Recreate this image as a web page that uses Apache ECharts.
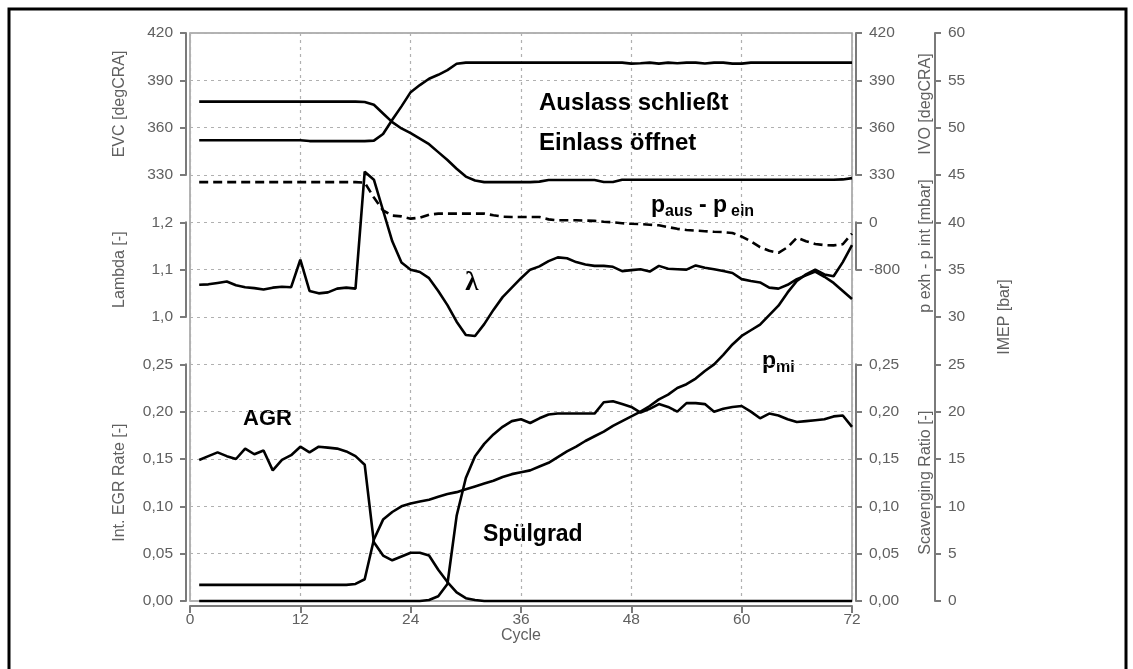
<!DOCTYPE html>
<html><head><meta charset="utf-8">
<script src="https://cdn.jsdelivr.net/npm/echarts@6/dist/echarts.min.js"></script>
<style>html,body{margin:0;padding:0;background:#fff}#c{width:1133px;height:669px}</style>
</head><body><div id="c"></div>
<script>
// ---------------- data ----------------
const cycles = [1,2,3,4,5,6,7,8,9,10,11,12,13,14,15,16,17,18,19,20,21,22,23,24,25,26,27,28,29,30,31,32,33,34,35,36,
  37,38,39,40,41,42,43,44,45,46,47,48,49,50,51,52,53,54,55,56,57,58,59,60,61,62,63,64,65,66,67,68,69,70,71,72];
// EVC [degCRA] (Auslass schließt)
const evc = [376.5,376.5,376.5,376.5,376.5,376.5,376.5,376.5,376.5,376.5,376.5,376.5,376.5,376.5,376.5,376.5,376.5,376.5,376.3,374.5,
  369,363.5,359.5,356.5,353,349.5,344.5,339.5,334,329,326.5,325.5,325.5,325.5,325.5,325.5,325.5,325.8,326.8,326.8,
  326.8,326.8,326.8,326.8,325.6,325.6,327,327,327,327,327,327,327,327,327,327,327,327,327,327,
  327,327,327,327,327,327,327,327,327,327,327.2,328];
// IVO [degCRA] (Einlass öffnet)
const ivo = [352,352,352,352,352,352,352,352,352,352,352,352,351.5,351.5,351.5,351.5,351.5,351.5,351.5,351.8,
  356,365,373.5,382.5,387,391,393.5,396.5,400.5,401.2,401.2,401.2,401.2,401.2,401.2,401.2,401.2,401.2,401.2,401.2,
  401.2,401.2,401.2,401.2,401.2,401.2,401.2,400.6,400.8,401.2,400.6,401.2,400.8,401.2,401.2,400.7,401.2,401.2,400.6,400.6,
  401.2,401.2,401.2,401.2,401.2,401.2,401.2,401.2,401.2,401.2,401.2,401.2];
// Lambda [-]
const lambda = [1.068,1.069,1.072,1.075,1.067,1.063,1.061,1.058,1.062,1.064,1.063,1.121,1.055,1.050,1.052,1.060,1.062,1.060,1.307,1.290,
  1.225,1.160,1.115,1.100,1.095,1.082,1.055,1.025,0.990,0.962,0.960,0.985,1.015,1.042,1.062,1.082,1.100,1.107,1.118,1.126,
  1.124,1.116,1.111,1.108,1.108,1.106,1.097,1.099,1.101,1.096,1.108,1.102,1.101,1.100,1.109,1.104,1.101,1.097,1.093,1.080,
  1.076,1.073,1.062,1.060,1.068,1.080,1.088,1.096,1.085,1.072,1.055,1.038];
// p exh - p int [mbar]
const dp = [680,680,680,680,680,680,680,680,680,680,680,680,680,680,680,680,680,680,672,420,
  200,115,100,62,80,130,147,147,147,147,147,147,120,95,90,90,90,90,50,34,
  34,34,30,25,10,0,-15,-25,-30,-40,-50,-80,-110,-130,-140,-150,-160,-165,-180,-240,
  -320,-420,-480,-515,-420,-260,-320,-365,-385,-390,-370,-190];
// Int. EGR Rate [-] (AGR)
const egr = [0.149,0.153,0.157,0.153,0.150,0.161,0.155,0.159,0.138,0.149,0.154,0.163,0.157,0.163,0.162,0.161,0.158,0.153,0.144,0.062,
  0.048,0.043,0.047,0.051,0.051,0.048,0.033,0.020,0.009,0.003,0.001,0,0,0,0,0,0,0,0,0,
  0,0,0,0,0,0,0,0,0,0,0,0,0,0,0,0,0,0,0,0,0,0,0,0,0,0,0,0,0,0,0,0];
// Scavenging Ratio [-] (Spülgrad)
const scav = [0,0,0,0,0,0,0,0,0,0,0,0,0,0,0,0,0,0,0,0,0,0,0,0,0,0.001,0.005,0.018,0.090,0.130,
  0.153,0.166,0.176,0.184,0.190,0.192,0.188,0.193,0.197,0.198,0.198,0.198,0.198,0.198,0.210,0.211,0.208,0.205,0.199,0.203,
  0.208,0.205,0.200,0.209,0.209,0.208,0.200,0.203,0.205,0.206,0.200,0.193,0.198,0.196,0.192,0.189,0.190,0.191,0.192,0.195,
  0.196,0.184];
// IMEP [bar] (p_mi)
const imep = [1.7,1.7,1.7,1.7,1.7,1.7,1.7,1.7,1.7,1.7,1.7,1.7,1.7,1.7,1.7,1.7,1.7,1.8,2.3,6.5,
  8.6,9.4,10.0,10.3,10.5,10.7,11.0,11.3,11.5,11.8,12.1,12.4,12.7,13.1,13.4,13.6,13.8,14.2,14.6,15.2,
  15.8,16.3,16.9,17.4,17.9,18.5,19.0,19.5,20.0,20.6,21.3,21.8,22.5,22.9,23.5,24.3,25.0,26.0,27.1,28.0,
  28.6,29.2,30.2,31.2,32.6,33.8,34.5,35.0,34.5,34.3,35.8,37.6];

// axis ranges / tick labels
const xRange = {min:0, max:72, step:12};
const evcRange = {min:330, max:420, step:30};
const lamRange = {min:1.0, max:1.2, step:0.1};
const dpRange = {min:-800, max:0, step:800};
const egrRange = {min:0, max:0.25, step:0.05};
const imepRange = {min:0, max:60, step:5};

// ---------------- chart ----------------
const FONT = 'Liberation Sans';
const AX = '#7a7a7a', LBL = '#606060', GRID = '#b0b0b0';
const TICKFS = 15.5, NAMEFS = 16;
const L = 190, R = 1133 - 852, T = 33, H = 568, U = H / 12;
const pair = arr => cycles.map((c, i) => [c, arr[i]]);
const comma = d => v => v.toFixed(d).replace('.', ',');
const lbl = fmt => ({color: LBL, fontFamily: FONT, fontSize: TICKFS, margin: 13, formatter: fmt});

function yAx(extra) {
  return Object.assign({
    type: 'value', position: 'left', offset: 4,
    axisLine: {show: true, onZero: false, lineStyle: {color: AX, width: 2}},
    axisTick: {show: true, inside: false, length: 6, lineStyle: {color: AX, width: 2}},
    axisLabel: lbl(undefined),
    splitLine: {show: false},
    nameLocation: 'middle', nameGap: 58, nameMoveOverlap: false,
    nameTextStyle: {color: LBL, fontFamily: FONT, fontSize: NAMEFS}
  }, extra);
}
const hiddenX = g => ({type: 'value', gridIndex: g, min: xRange.min, max: xRange.max, show: false});

const option = {
  animation: false,
  backgroundColor: '#fff',
  grid: [
    {left: L, right: R, top: T, height: H, show: true, borderColor: '#9a9a9a', borderWidth: 1.5, backgroundColor: 'transparent'},
    {left: L, right: R, top: T, height: 3 * U},
    {left: L, right: R, top: T + 4 * U, height: 2 * U},
    {left: L, right: R, top: T + 4 * U, height: U},
    {left: L, right: R, top: T + 7 * U, height: 5 * U}
  ],
  xAxis: [
    {type: 'value', gridIndex: 0, min: xRange.min, max: xRange.max, interval: xRange.step, offset: 5,
     axisLine: {show: true, onZero: false, lineStyle: {color: AX, width: 2}},
     axisTick: {show: true, length: 7, lineStyle: {color: AX, width: 2}},
     axisLabel: {color: LBL, fontFamily: FONT, fontSize: TICKFS, margin: 6},
     splitLine: {show: true, lineStyle: {color: GRID, type: [3, 4], width: 1.2}},
     name: 'Cycle', nameLocation: 'middle', nameGap: 22, nameMoveOverlap: false,
     nameTextStyle: {color: LBL, fontFamily: FONT, fontSize: NAMEFS}},
    hiddenX(1), hiddenX(2), hiddenX(3), hiddenX(4)
  ],
  yAxis: [
    yAx({gridIndex: 1, min: evcRange.min, max: evcRange.max, interval: evcRange.step, name: 'EVC [degCRA]'}),
    yAx({gridIndex: 1, position: 'right', min: evcRange.min, max: evcRange.max, interval: evcRange.step, name: 'IVO [degCRA]', nameGap: 62}),
    yAx({gridIndex: 2, min: lamRange.min, max: lamRange.max, interval: lamRange.step, name: 'Lambda [-]', axisLabel: lbl(comma(1))}),
    yAx({gridIndex: 3, position: 'right', min: dpRange.min, max: dpRange.max, interval: dpRange.step, name: 'p exh - p int [mbar]', nameGap: 62}),
    yAx({gridIndex: 4, min: egrRange.min, max: egrRange.max, interval: egrRange.step, name: 'Int. EGR Rate [-]', axisLabel: lbl(comma(2))}),
    yAx({gridIndex: 4, position: 'right', min: egrRange.min, max: egrRange.max, interval: egrRange.step, name: 'Scavenging Ratio [-]', nameGap: 62,
         axisLabel: lbl(comma(2))}),
    yAx({gridIndex: 0, position: 'right', offset: 83, min: imepRange.min, max: imepRange.max, interval: imepRange.step,
         name: 'IMEP [bar]', nameGap: 62,
         splitLine: {show: true, lineStyle: {color: GRID, type: [3, 4], width: 1.2}}})
  ],
  series: [
    {name: 'EVC', data: pair(evc), xAxisIndex: 1, yAxisIndex: 0},
    {name: 'IVO', data: pair(ivo), xAxisIndex: 1, yAxisIndex: 1},
    {name: 'Lambda', data: pair(lambda), xAxisIndex: 2, yAxisIndex: 2},
    {name: 'p exh - p int', data: pair(dp), xAxisIndex: 3, yAxisIndex: 3, dashed: true},
    {name: 'Int. EGR Rate', data: pair(egr), xAxisIndex: 4, yAxisIndex: 4},
    {name: 'Scavenging Ratio', data: pair(scav), xAxisIndex: 4, yAxisIndex: 5},
    {name: 'IMEP', data: pair(imep), xAxisIndex: 0, yAxisIndex: 6}
  ].map(s => ({
    type: 'line', name: s.name, data: s.data, xAxisIndex: s.xAxisIndex, yAxisIndex: s.yAxisIndex,
    showSymbol: false, symbol: 'none', clip: false, z: 5,
    lineStyle: {color: '#000', width: 2.6, type: s.dashed ? [9, 5] : 'solid'}
  })),
  graphic: [
    {type: 'rect', silent: true, shape: {x: 9, y: 9, width: 1117, height: 700},
     style: {fill: 'none', stroke: '#000', lineWidth: 3}},
    {type: 'text', x: 539, y: 103, style: {text: 'Auslass schließt', fill: '#000', font: 'bold 24px "Liberation Sans"', textVerticalAlign: 'middle'}},
    {type: 'text', x: 539, y: 143, style: {text: 'Einlass öffnet', fill: '#000', font: 'bold 24px "Liberation Sans"', textVerticalAlign: 'middle'}},
    {type: 'text', x: 651, y: 206, style: {text: 'p', fill: '#000', font: 'bold 23px "Liberation Sans"', textVerticalAlign: 'middle'}},
    {type: 'text', x: 665, y: 212, style: {text: 'aus', fill: '#000', font: 'bold 16px "Liberation Sans"', textVerticalAlign: 'middle'}},
    {type: 'text', x: 699, y: 206, style: {text: '- p', fill: '#000', font: 'bold 23px "Liberation Sans"', textVerticalAlign: 'middle'}},
    {type: 'text', x: 731, y: 212, style: {text: 'ein', fill: '#000', font: 'bold 16px "Liberation Sans"', textVerticalAlign: 'middle'}},
    {type: 'text', x: 472, y: 283, style: {text: 'λ', fill: '#000', font: 'bold 27px "Liberation Serif"', textAlign: 'center', textVerticalAlign: 'middle'}},
    {type: 'text', x: 762, y: 362, style: {text: 'p', fill: '#000', font: 'bold 23px "Liberation Sans"', textVerticalAlign: 'middle'}},
    {type: 'text', x: 776, y: 368, style: {text: 'mi', fill: '#000', font: 'bold 16px "Liberation Sans"', textVerticalAlign: 'middle'}},
    {type: 'text', x: 243, y: 419, style: {text: 'AGR', fill: '#000', font: 'bold 22px "Liberation Sans"', textVerticalAlign: 'middle'}},
    {type: 'text', x: 483, y: 535, style: {text: 'Spülgrad', fill: '#000', font: 'bold 23px "Liberation Sans"', textVerticalAlign: 'middle'}}
  ]
};
const chart = echarts.init(document.getElementById('c'), null, {renderer: 'canvas'});
chart.setOption(option);
</script></body></html>
